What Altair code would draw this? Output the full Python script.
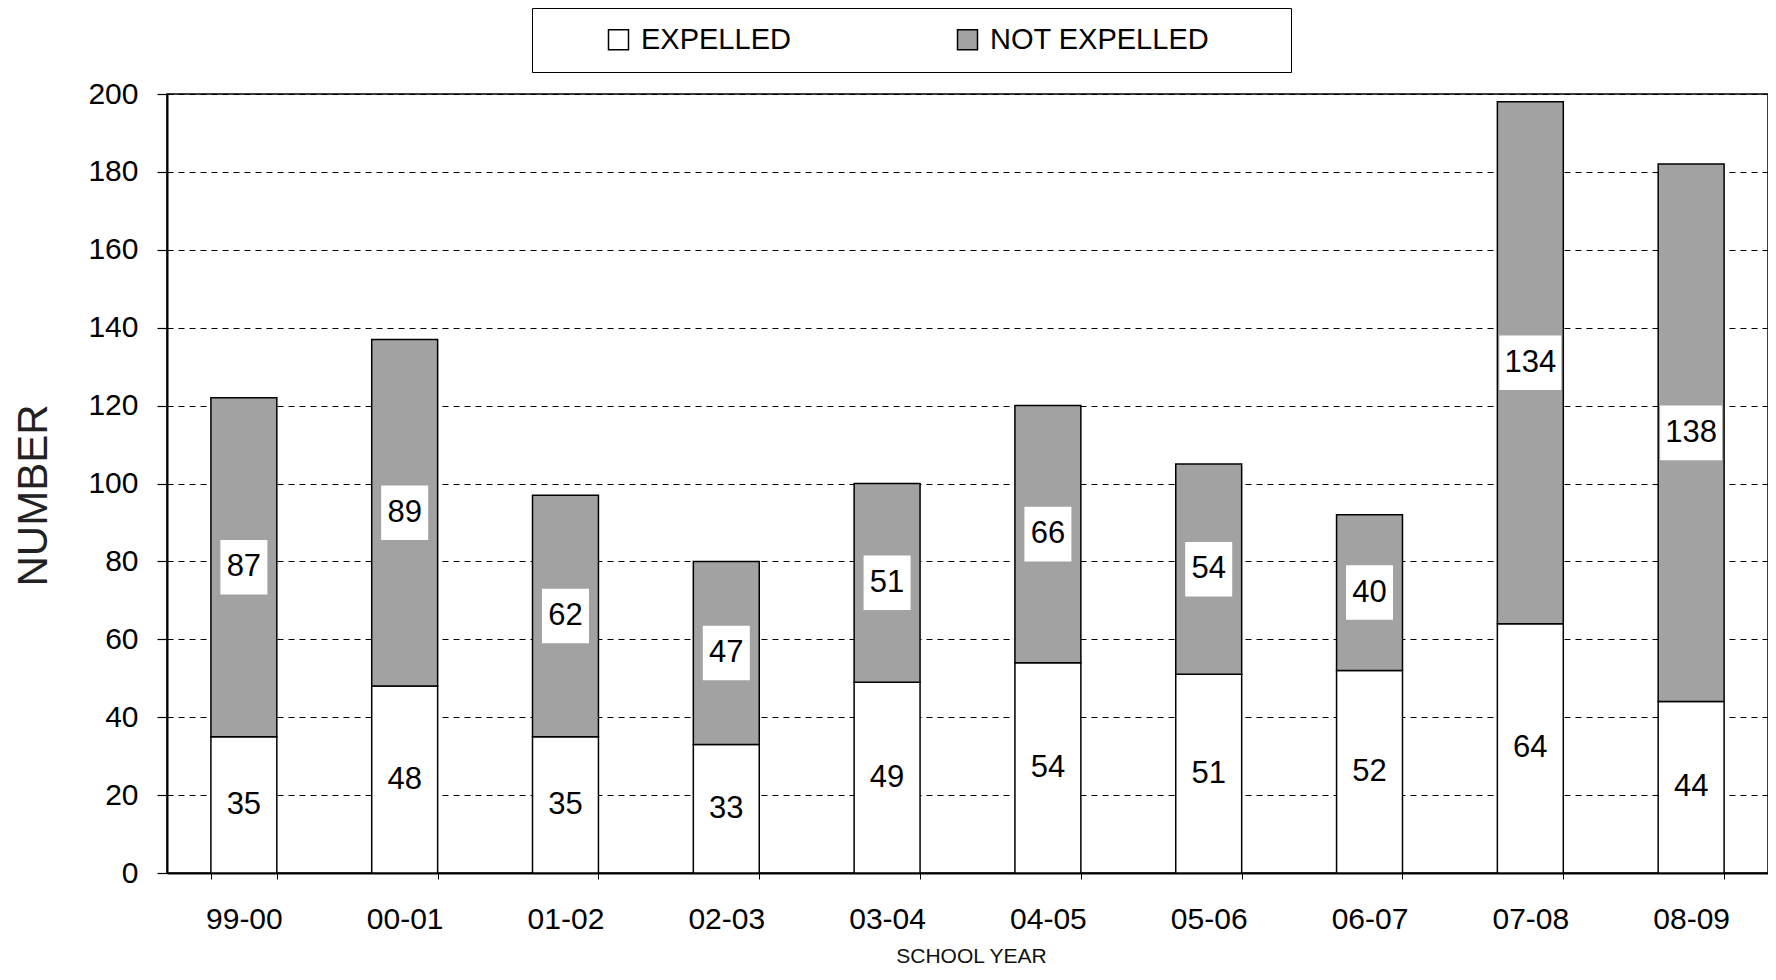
import altair as alt
import pandas as pd

years = ["99-00", "00-01", "01-02", "02-03", "03-04", "04-05", "05-06", "06-07", "07-08", "08-09"]
expelled = [35, 48, 35, 33, 49, 54, 51, 52, 64, 44]
not_expelled = [87, 89, 62, 47, 51, 66, 54, 40, 134, 138]
series = ["EXPELLED", "NOT EXPELLED"]
y_ticks = [0, 20, 40, 60, 80, 100, 120, 140, 160, 180, 200]

rows = []
for i, y in enumerate(years):
    rows.append({"year": y, "status": series[0], "value": expelled[i], "order": 0})
    rows.append({"year": y, "status": series[1], "value": not_expelled[i], "order": 1})
df = pd.DataFrame(rows)

FONT = "Liberation Sans"
# non-breaking spaces kept from trimming by a trailing zero-width space
PAD = "\u00a0" * 8 + "\u200b"

base = alt.Chart(df).transform_stack(
    stack="value", groupby=["year"], sort=[alt.SortField("order")], as_=["y0", "y1"]
).transform_calculate(
    mid="(datum.y0 + datum.y1) / 2", lo="(datum.y0 + datum.y1) / 2 - 7", hi="(datum.y0 + datum.y1) / 2 + 7"
)

x_scale = alt.Scale(paddingInner=0.59, paddingOuter=0.273)
x_enc = alt.X(
    "year:N", sort=years, scale=x_scale,
    axis=alt.Axis(
        title="SCHOOL YEAR", titleFontSize=21, titleFontWeight="normal", titleFont=FONT,
        titleColor="#111", titleX=804, titleY=83, titleAnchor="middle", titleAlign="center",
        titleBaseline="middle",
        labelFontSize=30, labelFont=FONT, labelColor="black", labelAngle=0,
        labelPadding=25, tickSize=6, tickBand="extent", tickColor="black", tickWidth=1,
        domainColor="black", domainWidth=2, grid=False,
    ),
)
y_scale = alt.Scale(domain=[0, 200], nice=False)

bars = base.mark_bar(stroke="black", strokeWidth=1.5).encode(
    x=x_enc,
    y=alt.Y(
        "y0:Q", scale=y_scale,
        axis=alt.Axis(
            values=y_ticks, title="NUMBER", titleFontSize=42, titleFontWeight="normal",
            titleFont=FONT, titleColor="#222", titleAngle=270, titleX=-121, titleY=401,
            titleAlign="center", titleBaseline="alphabetic",
            labelFontSize=30, labelFont=FONT, labelColor="black", labelPadding=19,
            tickSize=10, tickColor="black", tickWidth=1.2,
            domainColor="black", domainWidth=2,
            grid=True, gridColor="black", gridDash=[6, 5], gridWidth=1,
        ),
    ),
    y2="y1:Q",
    color=alt.Color(
        "status:N",
        scale=alt.Scale(domain=series, range=["white", "#a2a2a2"]),
        legend=alt.Legend(
            title=" ", titleOrient="left", titleFontSize=29, titlePadding=55,
            orient="none", legendX=365, legendY=-86, direction="horizontal",
            labelFontSize=29, labelFont=FONT, labelColor="black", labelLimit=0,
            labelOffset=8, columnPadding=162,
            labelExpr="datum.label == 'NOT EXPELLED' ? datum.label + '" + PAD + "' : datum.label",
            symbolType="square", symbolSize=400, symbolStrokeColor="black",
            symbolStrokeWidth=1.5, symbolOpacity=1,
            strokeColor="black", fillColor="white", padding=17,
        ),
    ),
)

box2 = base.transform_filter("datum.order == 1 && datum.value < 100").mark_bar(
    color="white", width=47
).encode(x=alt.X("year:N", sort=years, scale=x_scale), y=alt.Y("lo:Q", scale=y_scale), y2="hi:Q")

box3 = base.transform_filter("datum.order == 1 && datum.value >= 100").mark_bar(
    color="white", width=62
).encode(x=alt.X("year:N", sort=years, scale=x_scale), y=alt.Y("lo:Q", scale=y_scale), y2="hi:Q")

labels = base.mark_text(fontSize=31, font=FONT, color="black", baseline="middle").encode(
    x=alt.X("year:N", sort=years, scale=x_scale),
    y=alt.Y("mid:Q", scale=y_scale),
    text="value:Q",
)

chart = alt.layer(bars, box2, box3, labels).properties(
    width=1601, height=779,
    autosize=alt.AutoSizeParams(type="none"),
    padding={"left": 159, "top": 86, "right": 0, "bottom": 95},
    background="white",
).configure_view(stroke="black", strokeWidth=1.5)

chart.save("out.html", embed_options={"renderer": "svg", "actions": False})
